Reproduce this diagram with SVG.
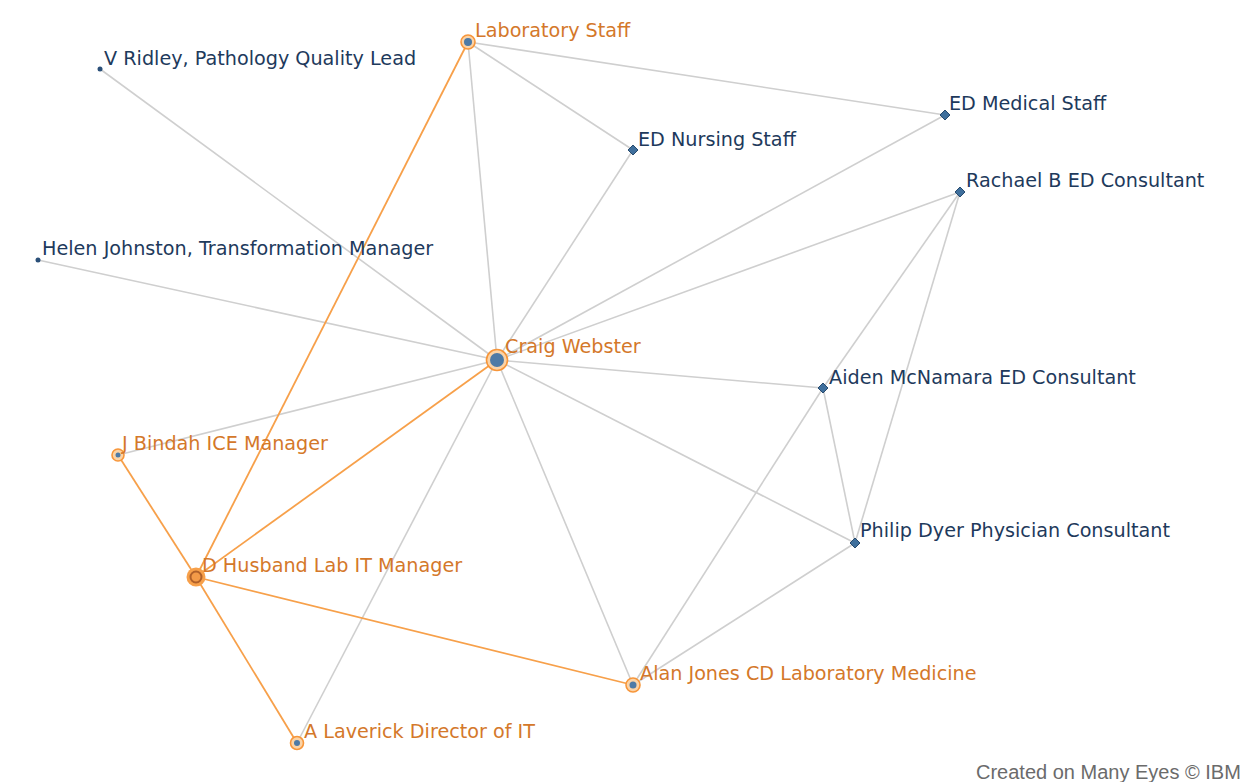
<svg xmlns="http://www.w3.org/2000/svg" width="1248" height="782" viewBox="0 0 1248 782">
  <style>
    .bg { fill: #ffffff; }
    .e { stroke: #cfcfcf; stroke-width: 1.6; fill: none; }
    .eo { stroke: #f7a04a; stroke-width: 1.8; fill: none; }
    .lb { font-family: "DejaVu Sans", "Liberation Sans", sans-serif; font-size: 19.2px; }
    .navy { fill: #1e3a5c; }
    .org { fill: #d4782a; }
    .dia { fill: #3f6f9c; stroke: #274a6e; stroke-width: 1; }
    .dot { fill: #2a4f78; }
    .ring { fill: #fbd3a6; stroke: #f7963a; stroke-width: 1.6; }
    .core { fill: #4d7aa6; }
    .foot { font-family: "Liberation Sans", Arial, sans-serif; font-size: 20px; fill: #6b6b6b; }
  </style>
  <defs>
    <path id="diamond" d="M0,-5 L5,0 L0,5 L-5,0 Z"/>
  </defs>
  <rect class="bg" x="0" y="0" width="1248" height="782"/>

  <g id="connectors">
    <line class="e" x1="468" y1="42" x2="945" y2="115"/>
    <line class="e" x1="468" y1="42" x2="633" y2="150"/>
    <line class="e" x1="468" y1="42" x2="497" y2="360"/>
    <line class="e" x1="100" y1="69" x2="497" y2="360"/>
    <line class="e" x1="38" y1="260" x2="497" y2="360"/>
    <line class="e" x1="633" y1="150" x2="497" y2="360"/>
    <line class="e" x1="945" y1="115" x2="497" y2="360"/>
    <line class="e" x1="960" y1="192" x2="497" y2="360"/>
    <line class="e" x1="497" y1="360" x2="823" y2="388"/>
    <line class="e" x1="497" y1="360" x2="855" y2="543"/>
    <line class="e" x1="497" y1="360" x2="633" y2="685"/>
    <line class="e" x1="497" y1="360" x2="297" y2="743"/>
    <line class="e" x1="497" y1="360" x2="118" y2="455"/>
    <line class="e" x1="960" y1="192" x2="823" y2="388"/>
    <line class="e" x1="960" y1="192" x2="855" y2="543"/>
    <line class="e" x1="823" y1="388" x2="855" y2="543"/>
    <line class="e" x1="823" y1="388" x2="633" y2="685"/>
    <line class="e" x1="855" y1="543" x2="633" y2="685"/>
    <line class="eo" x1="468" y1="42" x2="196" y2="577"/>
    <line class="eo" x1="497" y1="360" x2="196" y2="577"/>
    <line class="eo" x1="118" y1="455" x2="196" y2="577"/>
    <line class="eo" x1="196" y1="577" x2="633" y2="685"/>
    <line class="eo" x1="196" y1="577" x2="297" y2="743"/>
  </g>

  <g id="laboratory-staff">
    <circle class="ring" cx="468" cy="42" r="7"/>
    <circle class="core" cx="468" cy="42" r="4"/>
    <text class="lb org" x="475" y="37">Laboratory Staff</text>
  </g>
  <g id="v-ridley">
    <circle class="dot" cx="100" cy="69" r="2.5"/>
    <text class="lb navy" x="104" y="65">V Ridley, Pathology Quality Lead</text>
  </g>
  <g id="ed-medical-staff">
    <use href="#diamond" class="dia" x="945" y="115"/>
    <text class="lb navy" x="949" y="110">ED Medical Staff</text>
  </g>
  <g id="ed-nursing-staff">
    <use href="#diamond" class="dia" x="633" y="150"/>
    <text class="lb navy" x="638" y="146">ED Nursing Staff</text>
  </g>
  <g id="rachael-b">
    <use href="#diamond" class="dia" x="960" y="192"/>
    <text class="lb navy" x="966" y="187">Rachael B ED Consultant</text>
  </g>
  <g id="helen-johnston">
    <circle class="dot" cx="38" cy="260" r="2.5"/>
    <text class="lb navy" x="42" y="255">Helen Johnston, Transformation Manager</text>
  </g>
  <g id="craig-webster">
    <circle class="ring" cx="497" cy="360" r="10.5"/>
    <circle class="core" cx="497" cy="360" r="7"/>
    <text class="lb org" x="505" y="353">Craig Webster</text>
  </g>
  <g id="aiden-mcnamara">
    <use href="#diamond" class="dia" x="823" y="388"/>
    <text class="lb navy" x="829" y="384">Aiden McNamara ED Consultant</text>
  </g>
  <g id="j-bindah">
    <circle class="ring" cx="118" cy="455" r="6"/>
    <circle class="core" cx="118" cy="455" r="2.5"/>
    <text class="lb org" x="122" y="450">J Bindah ICE Manager</text>
  </g>
  <g id="philip-dyer">
    <use href="#diamond" class="dia" x="855" y="543"/>
    <text class="lb navy" x="860" y="537">Philip Dyer Physician Consultant</text>
  </g>
  <g id="d-husband">
    <circle cx="196" cy="577" r="9.5" fill="#f7a04a"/>
    <circle cx="196" cy="577" r="5.5" fill="#f39a48" stroke="#b0602a" stroke-width="2"/>
    <text class="lb org" x="202" y="572">D Husband Lab IT Manager</text>
  </g>
  <g id="alan-jones">
    <circle class="ring" cx="633" cy="685" r="7"/>
    <circle class="core" cx="633" cy="685" r="3.5"/>
    <text class="lb org" x="640" y="680">Alan Jones CD Laboratory Medicine</text>
  </g>
  <g id="a-laverick">
    <circle class="ring" cx="297" cy="743" r="6.5"/>
    <circle class="core" cx="297" cy="743" r="3"/>
    <text class="lb org" x="304" y="738">A Laverick Director of IT</text>
  </g>

  <text class="foot" x="976" y="779">Created on Many Eyes © IBM</text>
</svg>
